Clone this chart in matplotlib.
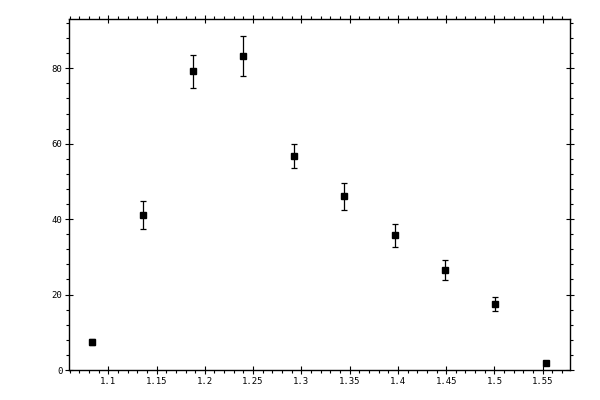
import matplotlib
matplotlib.use("Agg")
import matplotlib.pyplot as plt
from matplotlib.ticker import MultipleLocator

# values
energy = [1.0834, 1.1363, 1.1880, 1.2399, 1.2927, 1.3445, 1.3973, 1.4491, 1.5009, 1.5537]
counts = [7.3, 41.0, 79.2, 83.2, 56.7, 46.1, 35.7, 26.4, 17.4, 1.8]
errors = [0.8, 3.7, 4.4, 5.3, 3.2, 3.6, 3.0, 2.65, 1.85, 0.5]

plt.rcParams['font.family'] = ['DejaVu Sans Mono']

fig = plt.figure(figsize=(6, 4), dpi=100)
ax = fig.add_axes([0.1155, 0.075, 0.835, 0.877])

ax.errorbar(energy, counts, yerr=errors, fmt='s', color='black',
            markersize=5, elinewidth=0.9, capsize=2, capthick=0.9)

ax.set_xlim(1.0596, 1.5786)
ax.set_ylim(0, 93)

ax.xaxis.set_major_locator(MultipleLocator(0.05))
ax.xaxis.set_minor_locator(MultipleLocator(0.01))
ax.yaxis.set_major_locator(MultipleLocator(20))
ax.yaxis.set_minor_locator(MultipleLocator(4))
ax.xaxis.set_major_formatter(plt.FuncFormatter(lambda v, p: ('%.2f' % v).rstrip('0').rstrip('.')))

for s in ax.spines.values():
    s.set_linewidth(1.0)

ax.tick_params(which='major', direction='inout', length=6, width=0.8,
               top=True, right=True, labelsize=6.5, pad=2)
ax.tick_params(which='minor', direction='out', length=2.5, width=0.8,
               top=True, right=True)

plt.savefig("out.png", dpi=100)
